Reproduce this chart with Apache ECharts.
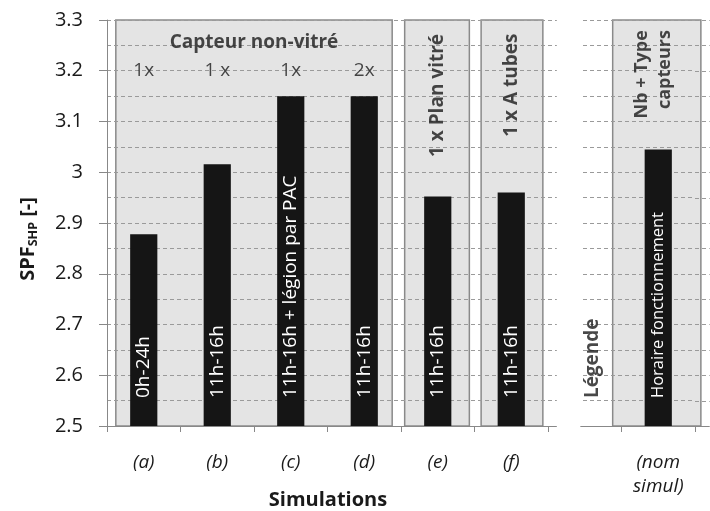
<!DOCTYPE html>
<html><head><meta charset="utf-8">
<script src="https://cdn.jsdelivr.net/npm/echarts@6/dist/echarts.min.js"></script>
<style>html,body{margin:0;padding:0;background:#fff}#c{width:710px;height:511px}</style>
</head><body><div id="c"></div>
<script>
// ---- data ----
const categories = ['(a)', '(b)', '(c)', '(d)', '(e)', '(f)', '', '(nom\nsimul)'];
const spfValues = [2.878, 3.016, 3.15, 3.15, 2.952, 2.96, null, 3.045];
const barLabels = ['0h-24h', '11h-16h', '11h-16h + légion par PAC', '11h-16h', '11h-16h', '11h-16h', '', 'Horaire fonctionnement'];
const collectorCounts = ['1x', '1 x', '1x', '2x'];
const groupTitles = ['Capteur non-vitré', '1 x Plan vitré', '1 x A tubes', 'Nb + Type\ncapteurs'];
const legendWord = 'Légende';
const yMin = 2.5, yMax = 3.3, yStep = 0.1;

// ---- layout (category units on a hidden value axis 0..8) ----
const boxSpans = [[0.12, 3.88], [4.05, 4.93], [5.09, 5.93], [6.88, 8.08]];
const gapSpan = [6.12, 6.44];
const FONT = 'Open Sans';
const TXT = '#1a1a1a';

const chart = echarts.init(document.getElementById('c'), null, {renderer: 'canvas'});

function rectItem(fill, stroke, lw, y0, y1) {
  return function (params, api) {
    const p0 = api.coord([api.value(0), y1]);
    const p1 = api.coord([api.value(1), y0]);
    return {
      type: 'rect',
      shape: {x: p0[0], y: p0[1], width: p1[0] - p0[0], height: p1[1] - p0[1]},
      style: {fill: fill, stroke: stroke, lineWidth: lw}
    };
  };
}

// grid lines continue a little past the right end of the plot
const extLevels = [];
for (let k = 0; k <= Math.round((yMax - yMin) / (yStep / 2)); k++) extLevels.push([8, yMin + k * yStep / 2]);

const notes = [];
notes.push({value: [2.0, 3.255], label: {formatter: groupTitles[0], fontWeight: 'bold', fontSize: 19}});
collectorCounts.forEach((t, i) => notes.push({value: [i + 0.5, 3.2], label: {formatter: t, fontSize: 19}}));
notes.push({value: [4.5, 3.03], label: {formatter: groupTitles[1], fontWeight: 'bold', fontSize: 19, rotate: 90, align: 'left'}});
notes.push({value: [5.5, 3.07], label: {formatter: groupTitles[2], fontWeight: 'bold', fontSize: 19, rotate: 90, align: 'left'}});
notes.push({value: [7.44, 3.28], label: {formatter: groupTitles[3], fontWeight: 'bold', fontSize: 18, rotate: 90, align: 'right', lineHeight: 23}});
notes.push({value: [6.61, 2.555], label: {formatter: legendWord, fontWeight: 'bold', fontSize: 19, rotate: 90, align: 'left'}});

const barData = spfValues.map((v, i) => ({
  value: v,
  label: {formatter: barLabels[i], fontSize: i === 7 ? 16.5 : 19}
}));

chart.setOption({
  animation: false,
  backgroundColor: '#fff',
  textStyle: {fontFamily: FONT},
  grid: {left: 107, right: 15, top: 20, bottom: 85, outerBoundsMode: 'none', containLabel: false},
  xAxis: [{
    type: 'category', data: categories, z: 2,
    axisLine: {lineStyle: {color: '#888', width: 1}},
    axisTick: {show: true, length: 6, lineStyle: {color: '#888'}},
    axisLabel: {interval: 0, margin: 25, fontSize: 19, fontStyle: 'italic', color: TXT, fontFamily: FONT, lineHeight: 24},
    splitLine: {show: false},
    name: 'Simulations', nameLocation: 'middle', nameGap: 64, nameMoveOverlap: false,
    nameTextStyle: {fontWeight: 'bold', fontSize: 20, color: TXT, fontFamily: FONT, padding: [0, 146, 0, 0]}
  }, {
    type: 'value', min: 0, max: 8, show: false
  }],
  yAxis: {
    type: 'value', min: yMin, max: yMax, interval: yStep, z: 2,
    axisLine: {show: true, lineStyle: {color: '#888'}},
    axisTick: {show: true, length: 8, lineStyle: {color: '#888'}},
    axisLabel: {margin: 24, fontSize: 20, color: TXT, fontFamily: FONT},
    splitLine: {lineStyle: {type: [4, 3], color: '#9a9a9a'}},
    minorTick: {show: false, splitNumber: 2},
    minorSplitLine: {show: true, lineStyle: {type: [4, 3], color: '#9a9a9a'}},
    name: 'SPF{s|SHP} [-]', nameLocation: 'middle', nameRotate: 90, nameGap: 67, nameMoveOverlap: false,
    nameTextStyle: {fontWeight: 'bold', fontSize: 20, color: TXT, fontFamily: FONT, padding: [0, 32, 0, 0],
      rich: {s: {fontWeight: 'bold', fontSize: 12.5, color: TXT, fontFamily: FONT, padding: [10, 0, 0, 0]}}}
  },
  series: [{
    type: 'custom', xAxisIndex: 1, z: 1, silent: true, clip: false,
    data: boxSpans,
    renderItem: rectItem('#e4e4e4', '#8a8a8a', 1.5, yMin, yMax)
  }, {
    type: 'custom', xAxisIndex: 1, z: 2, silent: true, clip: false,
    data: extLevels,
    renderItem: function (params, api) {
      const y = api.value(1);
      const a = api.coord([8, y]);
      const b = api.coord([8.2, y]);
      const isBase = Math.abs(y - yMin) < 1e-9;
      return {
        type: 'line',
        shape: {x1: a[0], y1: Math.round(a[1]) + 0.5, x2: b[0], y2: Math.round(b[1]) + 0.5},
        style: {stroke: isBase ? '#888' : '#9a9a9a', lineWidth: 1, lineDash: isBase ? null : [4, 3]}
      };
    }
  }, {
    type: 'bar', xAxisIndex: 0, z: 3, data: barData, barWidth: '37%',
    itemStyle: {color: '#151515'},
    label: {show: true, position: 'insideBottom', rotate: 90, align: 'left', verticalAlign: 'middle',
      distance: 28, color: '#fff', fontFamily: FONT}
  }, {
    type: 'custom', xAxisIndex: 1, z: 4, silent: true, clip: false,
    data: [gapSpan],
    renderItem: rectItem('#fff', null, 0, yMin - 0.01, yMax + 0.01)
  }, {
    type: 'scatter', xAxisIndex: 1, z: 5, silent: true, symbolSize: 0,
    itemStyle: {color: 'rgba(0,0,0,0)'},
    label: {show: true, position: 'inside', color: TXT, fontFamily: FONT, verticalAlign: 'middle'},
    data: notes
  }]
});
</script></body></html>
